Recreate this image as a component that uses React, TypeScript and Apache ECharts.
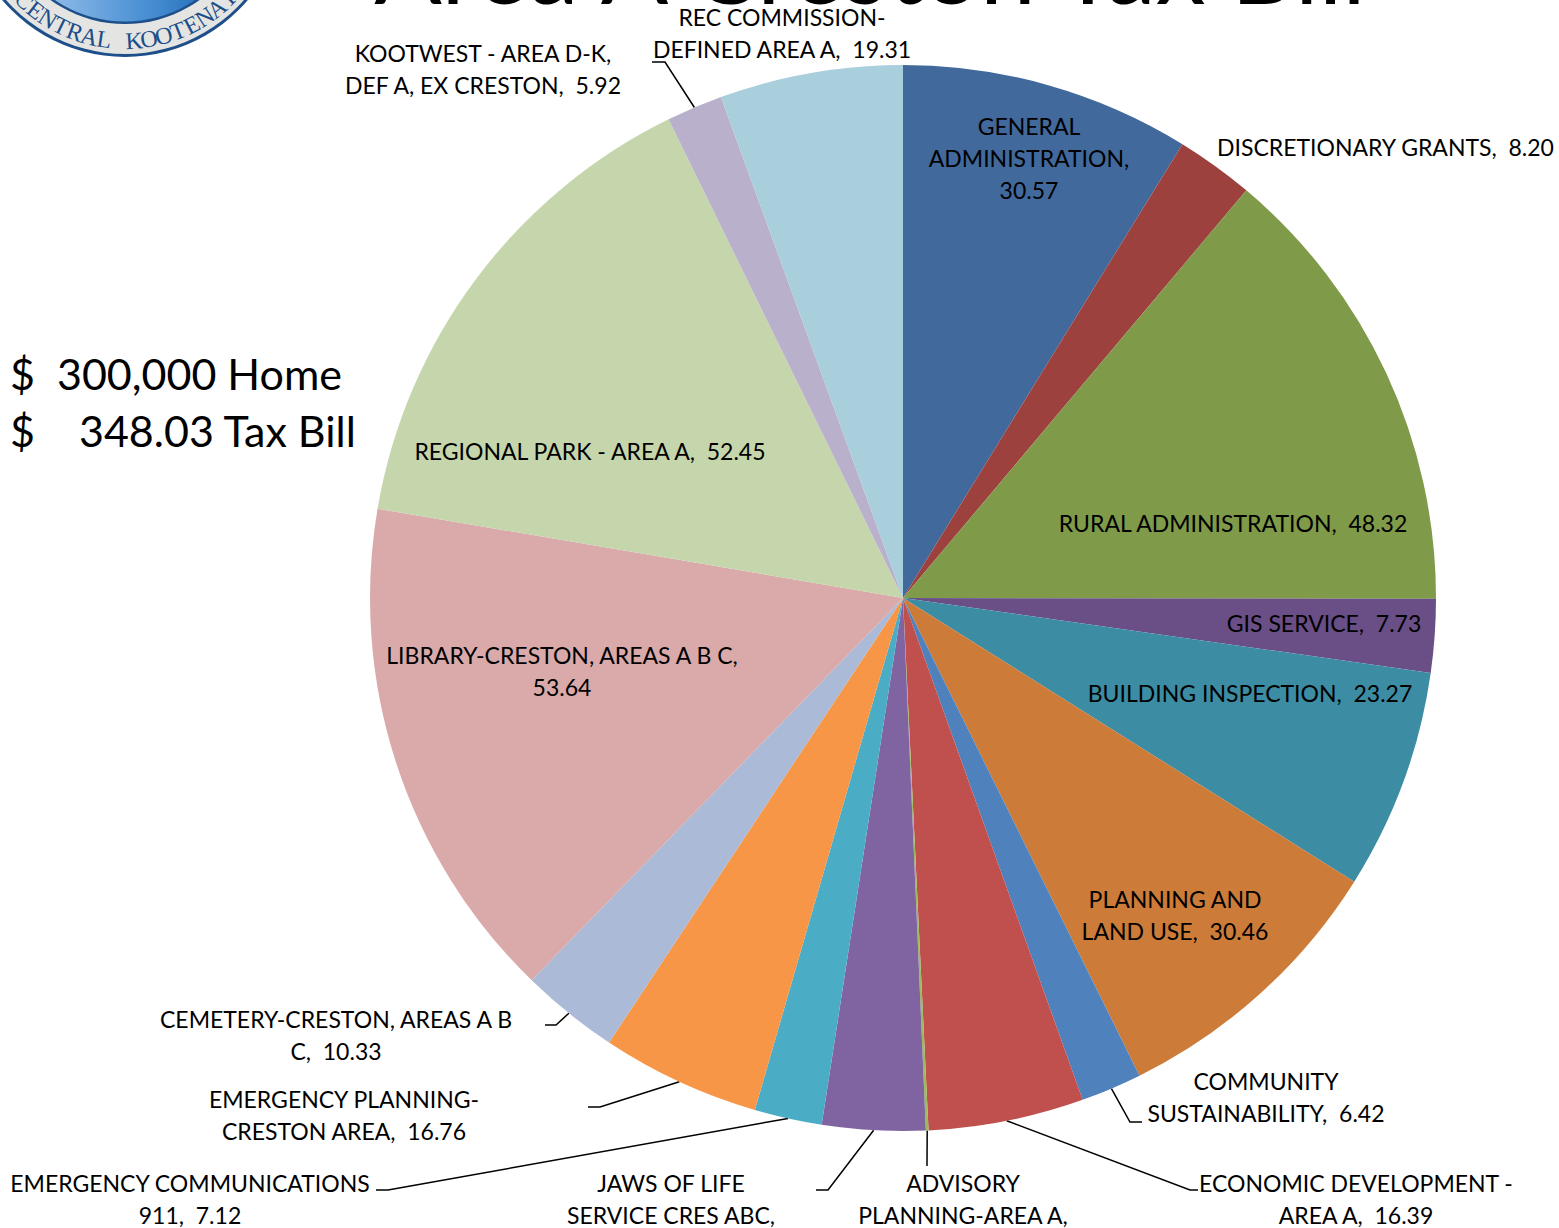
import React, { useEffect, useRef } from 'react';
import * as echarts from 'echarts';

// ---------- DATA ----------
const categories = [
  'GENERAL ADMINISTRATION',
  'DISCRETIONARY GRANTS',
  'RURAL ADMINISTRATION',
  'GIS SERVICE',
  'BUILDING INSPECTION',
  'PLANNING AND LAND USE',
  'COMMUNITY SUSTAINABILITY',
  'ECONOMIC DEVELOPMENT - AREA A',
  'ADVISORY PLANNING-AREA A',
  'JAWS OF LIFE SERVICE CRES ABC',
  'EMERGENCY COMMUNICATIONS 911',
  'EMERGENCY PLANNING-CRESTON AREA',
  'CEMETERY-CRESTON, AREAS A B C',
  'LIBRARY-CRESTON, AREAS A B C',
  'REGIONAL PARK - AREA A',
  'KOOTWEST - AREA D-K, DEF A, EX CRESTON',
  'REC COMMISSION-DEFINED AREA A',
];

const values = [
  30.57, 8.2, 48.32, 7.73, 23.27, 30.46, 6.42, 16.39, 0.28, 10.86, 7.12, 16.76,
  10.33, 53.64, 52.45, 5.92, 19.31,
];

// Label text as wrapped in the original (value appended after)
const labelTexts = [
  'GENERAL\nADMINISTRATION,\n',
  'DISCRETIONARY GRANTS,  ',
  'RURAL ADMINISTRATION,  ',
  'GIS SERVICE,  ',
  'BUILDING INSPECTION,  ',
  'PLANNING AND\nLAND USE,  ',
  'COMMUNITY\nSUSTAINABILITY,  ',
  'ECONOMIC DEVELOPMENT -\nAREA A,  ',
  'ADVISORY\nPLANNING-AREA A,\n',
  'JAWS OF LIFE\nSERVICE CRES ABC,\n',
  'EMERGENCY COMMUNICATIONS\n911,  ',
  'EMERGENCY PLANNING-\nCRESTON AREA,  ',
  'CEMETERY-CRESTON, AREAS A B\nC,  ',
  'LIBRARY-CRESTON, AREAS A B C,\n',
  'REGIONAL PARK - AREA A,  ',
  'KOOTWEST - AREA D-K,\nDEF A, EX CRESTON,  ',
  'REC COMMISSION-\nDEFINED AREA A,  ',
];

const homeValue = '300,000';
const titleText = 'Area A Creston Tax Bill';
const logoText = 'CENTRAL KOOTENAY';

// ---------- STYLE ----------
const colors = [
  '#41699C', '#9D413E', '#7F9A48', '#6A4E86', '#3C8CA3', '#CC7B38', '#4F81BD',
  '#C0504D', '#9BBB59', '#8064A2', '#4BACC6', '#F79646', '#AABAD7', '#D9AAA9',
  '#C6D6AC', '#B9B0CC', '#A9CEDC',
];

type Placement = { x: number; y: number; align: string; bend?: number[][] };
const labelPlacement: Placement[] = [
  { x: 1029, y: 158, align: 'center' },
  { x: 1217, y: 147, align: 'left' },
  { x: 1233, y: 523, align: 'center' },
  { x: 1324, y: 623, align: 'center' },
  { x: 1250, y: 693, align: 'center' },
  { x: 1175, y: 915, align: 'center' },
  { x: 1266, y: 1097, align: 'center', bend: [[1130, 1122], [1142, 1122]] },
  { x: 1356, y: 1199, align: 'center', bend: [[1190, 1190], [1198, 1190]] },
  { x: 963, y: 1215, align: 'center', bend: [[927, 1166]] },
  { x: 671, y: 1215, align: 'center', bend: [[828, 1190], [816, 1190]] },
  { x: 190, y: 1199, align: 'center', bend: [[388, 1190], [376, 1190]] },
  { x: 344, y: 1115, align: 'center', bend: [[600, 1107], [588, 1107]] },
  { x: 336, y: 1035, align: 'center', bend: [[556, 1025], [545, 1025]] },
  { x: 562, y: 671, align: 'center' },
  { x: 590, y: 451, align: 'center' },
  { x: 483, y: 69, align: 'center', bend: [[665, 62], [652, 62]] },
  { x: 782, y: 33, align: 'center' },
];

const FONT = 'Lato';

export default function App() {
  const ref = useRef<HTMLDivElement>(null);

  useEffect(() => {
    const chart = echarts.init(ref.current!, null, { renderer: 'svg' });
    const total = values.reduce((a, b) => a + b, 0);

    // logo: letters along the lower arc
    const logoCx = 125;
    const logoCy = -104;
    const letterR = 145;
    const letterEls: any[] = [];
    const startDeg = -44;
    const stepDeg = 5.95;
    logoText.split('').forEach((ch, i) => {
      if (ch === ' ') return;
      const a = ((startDeg + stepDeg * i) * Math.PI) / 180;
      letterEls.push({
        type: 'text',
        x: logoCx + letterR * Math.sin(a),
        y: logoCy + letterR * Math.cos(a),
        rotation: a,
        style: {
          text: ch,
          fill: '#1B4E89',
          font: '24px "Liberation Serif", "DejaVu Serif", serif',
          align: 'center',
          verticalAlign: 'middle',
        },
        z: 20,
      });
    });

    const option: any = {
      animation: false,
      backgroundColor: '#ffffff',
      graphic: [
        {
          type: 'circle',
          shape: { cx: logoCx, cy: logoCy, r: 161 },
          style: { fill: '#1D4F8A' },
          z: 10,
        },
        {
          type: 'circle',
          shape: { cx: logoCx, cy: logoCy, r: 158 },
          style: { fill: '#E4E4E2' },
          z: 11,
        },
        {
          type: 'circle',
          shape: { cx: logoCx, cy: logoCy, r: 128 },
          style: { fill: '#1D4F8A' },
          z: 12,
        },
        {
          type: 'circle',
          shape: { cx: logoCx, cy: logoCy, r: 125.5 },
          style: {
            fill: {
              type: 'linear',
              x: 0,
              y: 0,
              x2: 1,
              y2: 0,
              colorStops: [
                { offset: 0, color: '#B4D2F0' },
                { offset: 0.55, color: '#4F93D6' },
                { offset: 1, color: '#0A5BA8' },
              ],
            },
          },
          z: 13,
        },
        ...letterEls,
        {
          type: 'text',
          x: 870,
          y: -35,
          style: {
            text: titleText,
            fill: '#000',
            font: `100px ${FONT}`,
            align: 'center',
            verticalAlign: 'middle',
          },
          z: 5,
        },
        {
          type: 'text',
          x: 10,
          y: 373,
          style: {
            text: `$  ${homeValue} Home`,
            fill: '#000',
            font: `43px ${FONT}`,
            align: 'left',
            verticalAlign: 'middle',
          },
        },
        {
          type: 'text',
          x: 10,
          y: 430,
          style: {
            text: `$    ${total.toFixed(2)} Tax Bill`,
            fill: '#000',
            font: `43px ${FONT}`,
            align: 'left',
            verticalAlign: 'middle',
          },
        },
      ],
      series: [
        {
          type: 'pie',
          center: [903, 598],
          radius: 533,
          startAngle: 90,
          clockwise: true,
          avoidLabelOverlap: false,
          silent: true,
          itemStyle: { borderWidth: 0 },
          label: {
            show: true,
            position: 'outside',
            color: '#000',
            fontFamily: FONT,
            fontSize: 23,
            lineHeight: 32,
            formatter: (p: any) =>
              labelTexts[p.dataIndex] + Number(p.value).toFixed(2),
          },
          labelLine: {
            show: true,
            length: 10,
            length2: 10,
            lineStyle: { color: '#000', width: 1.5 },
          },
          labelLayout: (params: any) => {
            const pl = labelPlacement[params.dataIndex];
            const res: any = {
              x: pl.x,
              y: pl.y,
              align: pl.align,
              verticalAlign: 'middle',
            };
            if (pl.bend && params.labelLinePoints) {
              res.labelLinePoints = [params.labelLinePoints[0], ...pl.bend];
            }
            return res;
          },
          data: categories.map((name, i) => ({
            name,
            value: values[i],
            itemStyle: { color: colors[i] },
            labelLine: { show: !!labelPlacement[i].bend },
          })),
        },
      ],
    };

    chart.setOption(option);
    return () => chart.dispose();
  }, []);

  return (
    <div
      ref={ref}
      style={{
        position: 'absolute',
        left: 0,
        top: 0,
        width: 1559,
        height: 1228,
        background: '#ffffff',
      }}
    />
  );
}
